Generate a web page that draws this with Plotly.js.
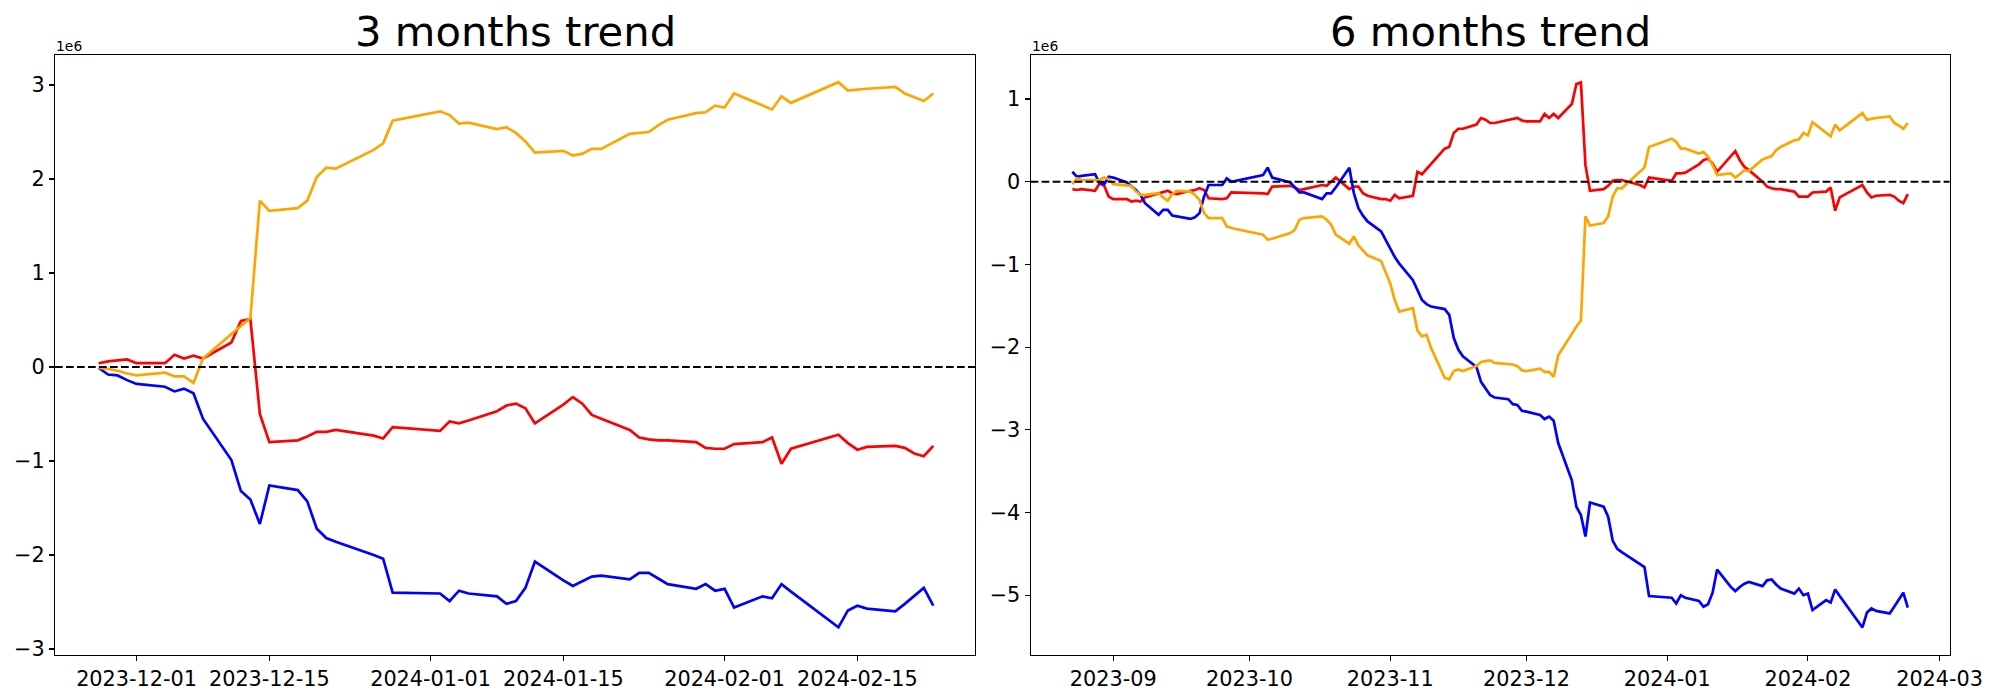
<!DOCTYPE html>
<html>
<head>
<meta charset="utf-8">
<script src="https://cdn.plot.ly/plotly-3.0.1.min.js"></script>
<style>
  html, body { margin: 0; padding: 0; background: #ffffff; }
  #chart { width: 2000px; height: 700px; }
</style>
</head>
<body>
<div id="chart"></div>
<script>
// ---------- 3 months trend (values in units of 1e6) ----------
const dates3m = [
  "2023-11-27","2023-11-28","2023-11-29","2023-11-30","2023-12-01",
  "2023-12-04","2023-12-05","2023-12-06","2023-12-07","2023-12-08",
  "2023-12-11","2023-12-12","2023-12-13","2023-12-14","2023-12-15",
  "2023-12-18","2023-12-19","2023-12-20","2023-12-21","2023-12-22",
  "2023-12-26","2023-12-27","2023-12-28",
  "2024-01-02","2024-01-03","2024-01-04","2024-01-05",
  "2024-01-08","2024-01-09","2024-01-10","2024-01-11","2024-01-12",
  "2024-01-15","2024-01-16","2024-01-17","2024-01-18","2024-01-19",
  "2024-01-22","2024-01-23","2024-01-24","2024-01-25","2024-01-26",
  "2024-01-29","2024-01-30","2024-01-31","2024-02-01","2024-02-02",
  "2024-02-05","2024-02-06","2024-02-07","2024-02-08",
  "2024-02-13","2024-02-14","2024-02-15","2024-02-16",
  "2024-02-19","2024-02-20","2024-02-21","2024-02-22","2024-02-23"
];
const red3m = [
  0.04, 0.06, 0.07, 0.08, 0.04,
  0.04, 0.13, 0.09, 0.12, 0.09,
  0.26, 0.49, 0.51, -0.50, -0.80,
  -0.78, -0.74, -0.69, -0.69, -0.67,
  -0.73, -0.76, -0.64,
  -0.68, -0.58, -0.60, -0.57,
  -0.47, -0.41, -0.39, -0.44, -0.60,
  -0.40, -0.32, -0.39, -0.51, -0.55,
  -0.67, -0.75, -0.77, -0.78, -0.78,
  -0.80, -0.86, -0.87, -0.87, -0.82,
  -0.80, -0.75, -1.03, -0.87,
  -0.72, -0.81, -0.88, -0.85,
  -0.84, -0.86, -0.92, -0.95, -0.84
];
const blue3m = [
  -0.01, -0.08, -0.09, -0.14, -0.18,
  -0.21, -0.26, -0.23, -0.28, -0.55,
  -0.99, -1.32, -1.41, -1.67, -1.26,
  -1.31, -1.43, -1.72, -1.82, -1.86,
  -2.00, -2.04, -2.40,
  -2.41, -2.49, -2.38, -2.41,
  -2.44, -2.52, -2.49, -2.35, -2.07,
  -2.27, -2.33, -2.28, -2.23, -2.22,
  -2.26, -2.19, -2.19, -2.25, -2.31,
  -2.36, -2.31, -2.38, -2.36, -2.56,
  -2.44, -2.46, -2.31, -2.39,
  -2.77, -2.59, -2.54, -2.57,
  -2.60, -2.52, -2.44, -2.35, -2.54
];
const orange3m = [
  -0.01, -0.02, -0.04, -0.07, -0.09,
  -0.06, -0.10, -0.10, -0.17, 0.09,
  0.35, 0.43, 0.52, 1.77, 1.66,
  1.69, 1.77, 2.02, 2.12, 2.11,
  2.31, 2.38, 2.62,
  2.72, 2.68, 2.59, 2.60,
  2.53, 2.55, 2.49, 2.40, 2.28,
  2.30, 2.25, 2.27, 2.32, 2.32,
  2.48, 2.49, 2.50, 2.57, 2.63,
  2.70, 2.71, 2.78, 2.76, 2.91,
  2.78, 2.74, 2.88, 2.81,
  3.03, 2.94, 2.95, 2.96,
  2.98, 2.91, 2.87, 2.83, 2.91
];

// ---------- 6 months trend (values in units of 1e6) ----------
const dates6m = [
  "2023-08-23","2023-08-24","2023-08-25","2023-08-28","2023-08-29","2023-08-30","2023-08-31",
  "2023-09-01","2023-09-04","2023-09-05","2023-09-06","2023-09-07","2023-09-08",
  "2023-09-11","2023-09-12","2023-09-13","2023-09-14","2023-09-15",
  "2023-09-18","2023-09-19","2023-09-20","2023-09-21","2023-09-22",
  "2023-09-25","2023-09-26","2023-09-27",
  "2023-10-04","2023-10-05","2023-10-06",
  "2023-10-10","2023-10-11","2023-10-12","2023-10-13",
  "2023-10-16","2023-10-17","2023-10-18","2023-10-19","2023-10-20",
  "2023-10-23","2023-10-24","2023-10-25","2023-10-26","2023-10-27",
  "2023-10-30","2023-10-31","2023-11-01","2023-11-02","2023-11-03",
  "2023-11-06","2023-11-07","2023-11-08","2023-11-09","2023-11-10",
  "2023-11-13","2023-11-14","2023-11-15","2023-11-16","2023-11-17",
  "2023-11-20","2023-11-21","2023-11-22","2023-11-23","2023-11-24",
  "2023-11-27","2023-11-28","2023-11-29","2023-11-30","2023-12-01",
  "2023-12-04","2023-12-05","2023-12-06","2023-12-07","2023-12-08",
  "2023-12-11","2023-12-12","2023-12-13","2023-12-14","2023-12-15",
  "2023-12-18","2023-12-19","2023-12-20","2023-12-21","2023-12-22",
  "2023-12-26","2023-12-27","2023-12-28",
  "2024-01-02","2024-01-03","2024-01-04","2024-01-05",
  "2024-01-08","2024-01-09","2024-01-10","2024-01-11","2024-01-12",
  "2024-01-15","2024-01-16","2024-01-17","2024-01-18","2024-01-19",
  "2024-01-22","2024-01-23","2024-01-24","2024-01-25","2024-01-26",
  "2024-01-29","2024-01-30","2024-01-31","2024-02-01","2024-02-02",
  "2024-02-05","2024-02-06","2024-02-07","2024-02-08",
  "2024-02-13","2024-02-14","2024-02-15","2024-02-16",
  "2024-02-19","2024-02-20","2024-02-21","2024-02-22","2024-02-23"
];
const red6m = [
  -0.09, -0.10, -0.09, -0.11, -0.02, -0.05, -0.18,
  -0.21, -0.21, -0.24, -0.23, -0.24, -0.19,
  -0.14, -0.12, -0.11, -0.14, -0.15,
  -0.11, -0.10, -0.08, -0.10, -0.20,
  -0.21, -0.20, -0.13,
  -0.14, -0.15, -0.06,
  -0.05, -0.07, -0.10, -0.09,
  -0.05, -0.04, -0.05, 0.00, 0.05,
  -0.09, -0.06, -0.06, -0.14, -0.17,
  -0.21, -0.21, -0.23, -0.16, -0.20,
  -0.17, 0.12, 0.09, 0.15, 0.22,
  0.40, 0.42, 0.59, 0.64, 0.64,
  0.69, 0.77, 0.75, 0.71, 0.71,
  0.75, 0.76, 0.77, 0.74, 0.73,
  0.73, 0.82, 0.77, 0.82, 0.77,
  0.94, 1.18, 1.20, 0.20, -0.11,
  -0.09, -0.05, 0.01, 0.02, 0.02,
  -0.04, -0.07, 0.05,
  0.01, 0.10, 0.10, 0.11,
  0.21, 0.26, 0.28, 0.22, 0.12,
  0.31, 0.37, 0.26, 0.18, 0.14,
  0.00, -0.06, -0.08, -0.09, -0.09,
  -0.12, -0.18, -0.18, -0.18, -0.13,
  -0.12, -0.07, -0.35, -0.19,
  -0.04, -0.13, -0.19, -0.17,
  -0.16, -0.18, -0.23, -0.26, -0.15
];
const blue6m = [
  0.12, 0.06, 0.07, 0.09, -0.02, -0.03, 0.06,
  0.05, -0.01, -0.05, -0.10, -0.16, -0.26,
  -0.40, -0.34, -0.34, -0.41, -0.42,
  -0.45, -0.43, -0.38, -0.18, -0.04,
  -0.04, 0.04, 0.00,
  0.08, 0.17, 0.05,
  -0.01, -0.07, -0.13, -0.13,
  -0.19, -0.21, -0.14, -0.14, -0.07,
  0.17, -0.14, -0.32, -0.41, -0.48,
  -0.60, -0.71, -0.81, -0.91, -0.99,
  -1.19, -1.31, -1.43, -1.48, -1.51,
  -1.54, -1.61, -1.89, -2.03, -2.11,
  -2.24, -2.42, -2.50, -2.58, -2.61,
  -2.63, -2.69, -2.70, -2.77, -2.78,
  -2.82, -2.87, -2.84, -2.89, -3.16,
  -3.61, -3.93, -4.03, -4.29, -3.88,
  -3.93, -4.05, -4.34, -4.44, -4.48,
  -4.62, -4.66, -5.01,
  -5.03, -5.10, -5.00, -5.03,
  -5.07, -5.14, -5.11, -4.97, -4.69,
  -4.90, -4.95, -4.90, -4.86, -4.84,
  -4.89, -4.82, -4.81, -4.87, -4.92,
  -4.98, -4.92, -5.00, -4.98, -5.18,
  -5.06, -5.09, -4.93, -5.01,
  -5.39, -5.21, -5.16, -5.19,
  -5.22, -5.14, -5.05, -4.97, -5.15
];
const orange6m = [
  -0.03, 0.04, 0.02, 0.02, 0.02, 0.05, 0.03,
  -0.03, -0.04, -0.05, -0.12, -0.16, -0.16,
  -0.14, -0.19, -0.23, -0.15, -0.11,
  -0.12, -0.16, -0.22, -0.38, -0.44,
  -0.44, -0.54, -0.56,
  -0.64, -0.70, -0.69,
  -0.62, -0.58, -0.46, -0.44,
  -0.42, -0.42, -0.46, -0.52, -0.64,
  -0.75, -0.66, -0.77, -0.83, -0.89,
  -0.96, -1.10, -1.23, -1.43, -1.57,
  -1.53, -1.80, -1.87, -1.85, -2.01,
  -2.37, -2.39, -2.29, -2.27, -2.29,
  -2.23, -2.18, -2.17, -2.16, -2.19,
  -2.21, -2.21, -2.23, -2.28, -2.29,
  -2.26, -2.30, -2.30, -2.36, -2.10,
  -1.84, -1.75, -1.68, -0.42, -0.53,
  -0.50, -0.42, -0.18, -0.08, -0.08,
  0.12, 0.17, 0.42,
  0.52, 0.48, 0.40, 0.40,
  0.34, 0.36, 0.30, 0.20, 0.08,
  0.10, 0.05, 0.09, 0.14, 0.13,
  0.27, 0.29, 0.31, 0.38, 0.42,
  0.50, 0.51, 0.59, 0.56, 0.72,
  0.60, 0.55, 0.69, 0.62,
  0.83, 0.75, 0.76, 0.77,
  0.79, 0.71, 0.68, 0.64, 0.71
];

// ---------- tick labels ----------
const xTicks3m = ["2023-12-01","2023-12-15","2024-01-01","2024-01-15","2024-02-01","2024-02-15"];
const xTicks6m = ["2023-09-01","2023-10-01","2023-11-01","2023-12-01","2024-01-01","2024-02-01","2024-03-01"];
const xTickText6m = ["2023-09","2023-10","2023-11","2023-12","2024-01","2024-02","2024-03"];
const titles = ["3 months trend", "6 months trend"];
const offsetLabel = "1e6";

// ---------- drawing ----------
const FONT = "DejaVu Sans, Liberation Sans, sans-serif";
const LW = 2.7;
function series(x, y, color, xa, ya) {
  return { x: x, y: y, type: "scatter", mode: "lines", xaxis: xa, yaxis: ya,
           line: { color: color, width: LW }, hoverinfo: "skip" };
}
const traces = [
  series(dates3m, red3m, "#ff0000", "x", "y"),
  series(dates3m, blue3m, "#0000ff", "x", "y"),
  series(dates3m, orange3m, "#ffa500", "x", "y"),
  series(dates6m, red6m, "#ff0000", "x2", "y2"),
  series(dates6m, blue6m, "#0000ff", "x2", "y2"),
  series(dates6m, orange6m, "#ffa500", "x2", "y2")
];

const W = 2000, H = 700;
const axisCommon = {
  showgrid: false, zeroline: false,
  showline: true, mirror: true, linecolor: "#000", linewidth: 1.1,
  ticks: "outside", ticklen: 5, tickwidth: 1.1, tickcolor: "#000",
  tickfont: { family: FONT, size: 20.8, color: "#000" }
};
const yDomain = [(H - 655) / H, (H - 55) / H];

const layout = {
  width: W, height: H,
  margin: { l: 0, r: 0, t: 0, b: 0, pad: 0 },
  paper_bgcolor: "#fff", plot_bgcolor: "#fff",
  showlegend: false,
  xaxis: Object.assign({}, axisCommon, {
    type: "date", domain: [55 / W, 975 / W], anchor: "y",
    range: ["2023-11-22 09:36", "2024-02-27 09:36"],
    tickmode: "array", tickvals: xTicks3m, ticktext: xTicks3m
  }),
  yaxis: Object.assign({}, axisCommon, {
    domain: yDomain, anchor: "x", range: [-3.064, 3.319],
    tickmode: "linear", tick0: 0, dtick: 1
  }),
  xaxis2: Object.assign({}, axisCommon, {
    type: "date", domain: [1030.6 / W, 1949.6 / W], anchor: "y2",
    range: ["2023-08-13 19:12", "2024-03-03 04:48"],
    tickmode: "array", tickvals: xTicks6m, ticktext: xTickText6m
  }),
  yaxis2: Object.assign({}, axisCommon, {
    domain: yDomain, anchor: "x2", range: [-5.723, 1.532],
    tickmode: "linear", tick0: 0, dtick: 1
  }),
  shapes: [
    { type: "line", xref: "x domain", x0: 0, x1: 1, yref: "y", y0: 0, y1: 0,
      line: { color: "#000", width: 2, dash: "7.7px,3.3px" }, layer: "above" },
    { type: "line", xref: "x2 domain", x0: 0, x1: 1, yref: "y2", y0: 0, y1: 0,
      line: { color: "#000", width: 2, dash: "7.7px,3.3px" }, layer: "above" }
  ],
  annotations: [
    { text: titles[0], xref: "paper", yref: "paper", x: 515 / W, y: (H - 32) / H,
      xanchor: "center", yanchor: "middle", showarrow: false,
      font: { family: FONT, size: 41.7, color: "#000" } },
    { text: titles[1], xref: "paper", yref: "paper", x: 1490.1 / W, y: (H - 32) / H,
      xanchor: "center", yanchor: "middle", showarrow: false,
      font: { family: FONT, size: 41.7, color: "#000" } },
    { text: offsetLabel, xref: "paper", yref: "paper", x: 54 / W, y: (H - 46.5) / H,
      xanchor: "left", yanchor: "middle", showarrow: false,
      font: { family: FONT, size: 13.9, color: "#000" } },
    { text: offsetLabel, xref: "paper", yref: "paper", x: 1029.6 / W, y: (H - 46.5) / H,
      xanchor: "left", yanchor: "middle", showarrow: false,
      font: { family: FONT, size: 13.9, color: "#000" } }
  ]
};

Plotly.newPlot("chart", traces, layout, { displayModeBar: false, staticPlot: true });
</script>
</body>
</html>
